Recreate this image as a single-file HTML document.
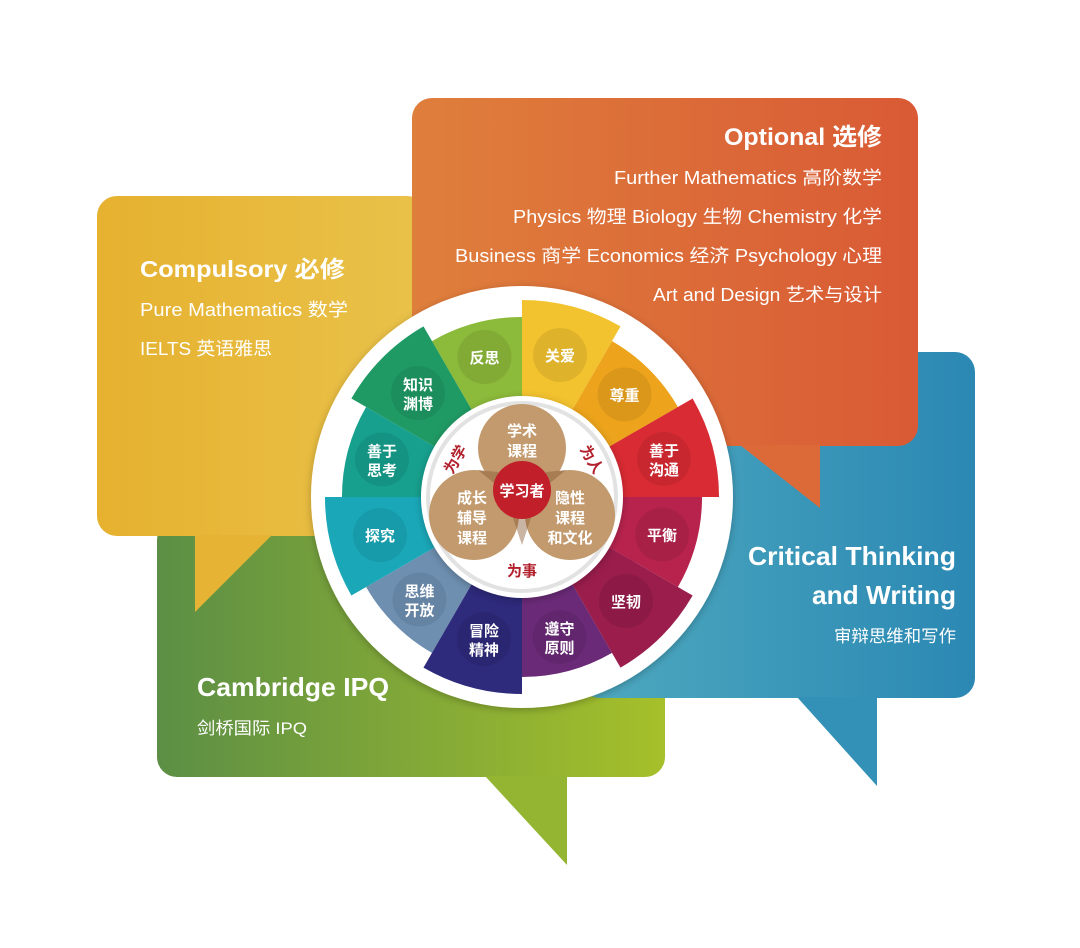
<!DOCTYPE html>
<html><head><meta charset="utf-8"><style>
html,body{margin:0;padding:0;background:#fff;width:1080px;height:948px;overflow:hidden}
svg{display:block}
text{font-family:"Liberation Sans","Noto Sans CJK SC",sans-serif;fill:#fff}
</style></head><body>
<svg width="1080" height="948" viewBox="0 0 1080 948" xmlns="http://www.w3.org/2000/svg">
<defs>
<linearGradient id="gy" x1="0" x2="1"><stop offset="0" stop-color="#e6b12f"/><stop offset="1" stop-color="#e9c24a"/></linearGradient>
<linearGradient id="go" x1="0" x2="1"><stop offset="0" stop-color="#df7f3c"/><stop offset="1" stop-color="#d95a35"/></linearGradient>
<linearGradient id="gb" x1="0" x2="1"><stop offset="0" stop-color="#4ea9bf"/><stop offset="1" stop-color="#2b88b3"/></linearGradient>
<linearGradient id="gg" x1="0" x2="1"><stop offset="0" stop-color="#5c8f45"/><stop offset="1" stop-color="#a6c02a"/></linearGradient>
<filter id="sh" x="-20%" y="-20%" width="140%" height="140%"><feDropShadow dx="0" dy="2" stdDeviation="4" flood-opacity="0.25"/></filter>
</defs>
<rect x="157" y="520" width="508" height="257" rx="20" fill="url(#gg)"/>
<polygon points="485,776 567,865 567,776" fill="#94b532"/>
<rect x="580" y="352" width="395" height="346" rx="20" fill="url(#gb)"/>
<polygon points="797,697 877,786 877,697" fill="#3391b7"/>
<rect x="97" y="196" width="330" height="340" rx="20" fill="url(#gy)"/>
<polygon points="195,535 195,612 272,535" fill="#e6b335"/>
<rect x="412" y="98" width="506" height="348" rx="20" fill="url(#go)"/>
<polygon points="740,445 820,508 820,445" fill="#dc6a38"/>

<g lengthAdjust="spacingAndGlyphs">
<text x="882" y="145" text-anchor="end" font-size="24" font-weight="bold" textLength="158" lengthAdjust="spacingAndGlyphs">Optional 选修</text>
<text x="882" y="184" text-anchor="end" font-size="18" textLength="268" lengthAdjust="spacingAndGlyphs">Further Mathematics 高阶数学</text>
<text x="882" y="223" text-anchor="end" font-size="18" textLength="369" lengthAdjust="spacingAndGlyphs">Physics 物理 Biology 生物 Chemistry 化学</text>
<text x="882" y="262" text-anchor="end" font-size="18" textLength="427" lengthAdjust="spacingAndGlyphs">Business 商学 Economics 经济 Psychology 心理</text>
<text x="882" y="301" text-anchor="end" font-size="18" textLength="229" lengthAdjust="spacingAndGlyphs">Art and Design 艺术与设计</text>

<text x="140" y="277" font-size="23" font-weight="bold" textLength="205" lengthAdjust="spacingAndGlyphs">Compulsory 必修</text>
<text x="140" y="316" font-size="18" textLength="208" lengthAdjust="spacingAndGlyphs">Pure Mathematics 数学</text>
<text x="140" y="355" font-size="18" textLength="132" lengthAdjust="spacingAndGlyphs">IELTS 英语雅思</text>

<text x="956" y="565" text-anchor="end" font-size="26" font-weight="bold" textLength="208" lengthAdjust="spacingAndGlyphs">Critical Thinking</text>
<text x="956" y="604" text-anchor="end" font-size="26" font-weight="bold" textLength="144" lengthAdjust="spacingAndGlyphs">and Writing</text>
<text x="956" y="642" text-anchor="end" font-size="17" textLength="122" lengthAdjust="spacingAndGlyphs">审辩思维和写作</text>

<text x="197" y="696" font-size="26" font-weight="bold" textLength="192" lengthAdjust="spacingAndGlyphs">Cambridge IPQ</text>
<text x="197" y="734" font-size="17" textLength="110" lengthAdjust="spacingAndGlyphs">剑桥国际 IPQ</text>
</g>

<circle cx="522" cy="497" r="211" fill="#fff" filter="url(#sh)"/>
<g transform="translate(522,497)" font-size="15" font-weight="bold">
  <g transform="rotate(45)"><path d="M-25.9-96.6L-46.6-173.9A180 180 0 0 1 46.6-173.9L25.9-96.6A100 100 0 0 0-25.9-96.6Z" fill="#eda41c"/><circle cx="0" cy="-145" r="27" fill="#000" opacity=".08"/><text transform="translate(0,-145) rotate(-45)" text-anchor="middle" y="6">尊重</text></g>
  <g transform="rotate(105)"><path d="M-25.9-96.6L-46.6-173.9A180 180 0 0 1 46.6-173.9L25.9-96.6A100 100 0 0 0-25.9-96.6Z" fill="#b8234e"/><circle cx="0" cy="-145" r="27" fill="#000" opacity=".08"/><text transform="translate(0,-145) rotate(-105)" text-anchor="middle" y="6">平衡</text></g>
  <g transform="rotate(165)"><path d="M-25.9-96.6L-46.6-173.9A180 180 0 0 1 46.6-173.9L25.9-96.6A100 100 0 0 0-25.9-96.6Z" fill="#6b2a78"/><circle cx="0" cy="-145" r="27" fill="#000" opacity=".08"/><text transform="translate(0,-145) rotate(-165)" text-anchor="middle"><tspan x="0" y="-3">遵守</tspan><tspan x="0" y="16">原则</tspan></text></g>
  <g transform="rotate(225)"><path d="M-25.9-96.6L-46.6-173.9A180 180 0 0 1 46.6-173.9L25.9-96.6A100 100 0 0 0-25.9-96.6Z" fill="#6e8fb0"/><circle cx="0" cy="-145" r="27" fill="#000" opacity=".08"/><text transform="translate(0,-145) rotate(-225)" text-anchor="middle"><tspan x="0" y="-3">思维</tspan><tspan x="0" y="16">开放</tspan></text></g>
  <g transform="rotate(285)"><path d="M-25.9-96.6L-46.6-173.9A180 180 0 0 1 46.6-173.9L25.9-96.6A100 100 0 0 0-25.9-96.6Z" fill="#17a08e"/><circle cx="0" cy="-145" r="27" fill="#000" opacity=".08"/><text transform="translate(0,-145) rotate(-285)" text-anchor="middle"><tspan x="0" y="-3">善于</tspan><tspan x="0" y="16">思考</tspan></text></g>
  <g transform="rotate(345)"><path d="M-25.9-96.6L-46.6-173.9A180 180 0 0 1 46.6-173.9L25.9-96.6A100 100 0 0 0-25.9-96.6Z" fill="#8cba3a"/><circle cx="0" cy="-145" r="27" fill="#000" opacity=".08"/><text transform="translate(0,-145) rotate(-345)" text-anchor="middle" y="6">反思</text></g>
  <g transform="rotate(15)"><path d="M-25.9-96.6L-51-190.3A197 197 0 0 1 51-190.3L25.9-96.6A100 100 0 0 0-25.9-96.6Z" fill="#f2c22f"/><circle cx="0" cy="-147" r="27" fill="#000" opacity=".08"/><text transform="translate(0,-147) rotate(-15)" text-anchor="middle" y="6">关爱</text></g>
  <g transform="rotate(75)"><path d="M-25.9-96.6L-51-190.3A197 197 0 0 1 51-190.3L25.9-96.6A100 100 0 0 0-25.9-96.6Z" fill="#d92b33"/><circle cx="0" cy="-147" r="27" fill="#000" opacity=".08"/><text transform="translate(0,-147) rotate(-75)" text-anchor="middle"><tspan x="0" y="-3">善于</tspan><tspan x="0" y="16">沟通</tspan></text></g>
  <g transform="rotate(135)"><path d="M-25.9-96.6L-51-190.3A197 197 0 0 1 51-190.3L25.9-96.6A100 100 0 0 0-25.9-96.6Z" fill="#9a1d4c"/><circle cx="0" cy="-147" r="27" fill="#000" opacity=".08"/><text transform="translate(0,-147) rotate(-135)" text-anchor="middle" y="6">坚韧</text></g>
  <g transform="rotate(195)"><path d="M-25.9-96.6L-51-190.3A197 197 0 0 1 51-190.3L25.9-96.6A100 100 0 0 0-25.9-96.6Z" fill="#2e2a7c"/><circle cx="0" cy="-147" r="27" fill="#000" opacity=".08"/><text transform="translate(0,-147) rotate(-195)" text-anchor="middle"><tspan x="0" y="-3">冒险</tspan><tspan x="0" y="16">精神</tspan></text></g>
  <g transform="rotate(255)"><path d="M-25.9-96.6L-51-190.3A197 197 0 0 1 51-190.3L25.9-96.6A100 100 0 0 0-25.9-96.6Z" fill="#1aa8b8"/><circle cx="0" cy="-147" r="27" fill="#000" opacity=".08"/><text transform="translate(0,-147) rotate(-255)" text-anchor="middle" y="6">探究</text></g>
  <g transform="rotate(315)"><path d="M-25.9-96.6L-51-190.3A197 197 0 0 1 51-190.3L25.9-96.6A100 100 0 0 0-25.9-96.6Z" fill="#1f9a64"/><circle cx="0" cy="-147" r="27" fill="#000" opacity=".08"/><text transform="translate(0,-147) rotate(-315)" text-anchor="middle"><tspan x="0" y="-3">知识</tspan><tspan x="0" y="16">渊博</tspan></text></g>
</g>
<circle cx="522" cy="497" r="101" fill="#fff" filter="url(#sh)"/>
<circle cx="522" cy="497" r="94" fill="none" stroke="#e2e2e2" stroke-width="4"/>
<g fill="#c29a6d">
<circle cx="522" cy="448" r="44"/>
<circle cx="474" cy="515" r="45"/>
<circle cx="570" cy="515" r="45"/>
</g>
<g fill="#8a5a35" opacity="0.45">
<polygon points="498,472 478,470 505,492"/>
<polygon points="546,472 566,470 539,492"/>
<polygon points="512,515 532,515 522,545"/>
</g>
<circle cx="522" cy="490" r="29" fill="#c1202b"/>
<g font-size="15" font-weight="bold" text-anchor="middle">
<text x="522" y="436">学术</text><text x="522" y="456">课程</text>
<text x="522" y="496">学习者</text>
<text x="472" y="503">成长</text><text x="472" y="523">辅导</text><text x="472" y="543">课程</text>
<text x="570" y="503">隐性</text><text x="570" y="523">课程</text><text x="570" y="543">和文化</text>
</g>
<g font-size="15" font-weight="bold" text-anchor="middle">
<text transform="translate(460,462) rotate(-60)" style="fill:#b2202c">为学</text>
<text transform="translate(587,462) rotate(60)" style="fill:#b2202c">为人</text>
<text x="522" y="576" style="fill:#b2202c">为事</text>
</g>
</svg>
</body></html>
